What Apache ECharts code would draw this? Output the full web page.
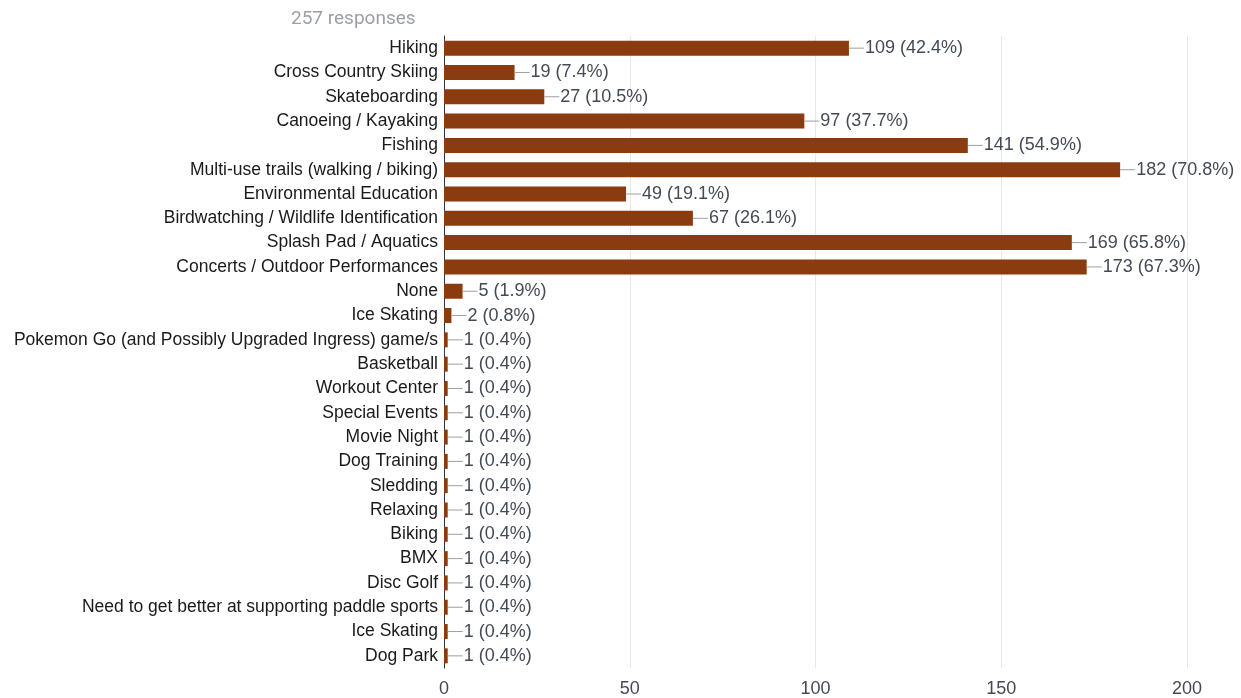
<!DOCTYPE html>
<html><head><meta charset="utf-8">
<script src="https://cdn.jsdelivr.net/npm/echarts@6/dist/echarts.min.js"></script>
<style>html,body{margin:0;padding:0;background:#fff}#c{width:1241px;height:698px}</style>
</head><body><div id="c"></div>
<script>
const categories = ["Hiking","Cross Country Skiing","Skateboarding","Canoeing / Kayaking","Fishing","Multi-use trails (walking / biking)","Environmental Education","Birdwatching / Wildlife Identification","Splash Pad / Aquatics","Concerts / Outdoor Performances","None","Ice Skating","Pokemon Go (and Possibly Upgraded Ingress) game/s","Basketball","Workout Center","Special Events","Movie Night","Dog Training","Sledding","Relaxing","Biking","BMX","Disc Golf","Need to get better at supporting paddle sports","Ice Skating\u200b","Dog Park"];
const counts = [109,19,27,97,141,182,49,67,169,173,5,2,1,1,1,1,1,1,1,1,1,1,1,1,1,1];
const percents = ["42.4","7.4","10.5","37.7","54.9","70.8","19.1","26.1","65.8","67.3","1.9","0.8","0.4","0.4","0.4","0.4","0.4","0.4","0.4","0.4","0.4","0.4","0.4","0.4","0.4","0.4"];
const xTicks = [0,50,100,150,200];
const title = "257 responses";

const F = "'Liberation Sans',Arial,sans-serif";
const chart = echarts.init(document.getElementById('c'), null, {renderer:'canvas'});
chart.setOption({
  animation:false,
  title:{text:title,left:286,top:5,textStyle:{color:'#9aa0a6',fontSize:19,fontWeight:'normal',fontFamily:'Roboto'}},
  grid:{left:444,right:54,top:36,bottom:30,containLabel:false,outerBoundsMode:'none'},
  xAxis:{type:'value',min:xTicks[0],max:xTicks[xTicks.length-1],interval:50,
    axisLine:{show:false},axisTick:{show:false},
    axisLabel:{color:'#444a55',fontSize:18,fontFamily:F,margin:12,hideOverlap:false},
    splitLine:{lineStyle:{color:'#e8e8e8',width:1}}},
  yAxis:{type:'category',data:categories,inverse:true,
    axisLine:{lineStyle:{color:'#333',width:1}},axisTick:{show:false},
    axisLabel:{color:'#1a1a1a',fontSize:17.5,fontFamily:F,margin:6,interval:0,hideOverlap:false}},
  series:[{type:'bar',data:counts,barWidth:15,
    itemStyle:{color:'#8a3b0f'},
    label:{show:true,position:'right',distance:0,
      formatter:p=>'{l|}{t|'+p.value+' ('+percents[p.dataIndex]+'%)}',
      rich:{l:{width:15,height:1,backgroundColor:'#9e9e9e'},
            t:{color:'#444a55',fontSize:18,fontFamily:F,padding:[0,0,0,1]}}}}]
});
</script></body></html>
